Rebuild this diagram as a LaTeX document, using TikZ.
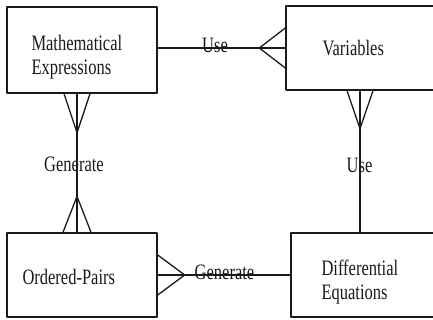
\documentclass[tikz,border=0pt]{standalone}
\usepackage{fontspec}
\setmainfont{Liberation Serif}[FakeStretch=0.75]
\usepackage{xcolor}
\definecolor{erInk}{HTML}{1A1A1A}

\begin{document}
\begin{tikzpicture}[x=1pt, y=-1pt, line cap=round, line join=round,
  entity/.style={draw=erInk, line width=1.4pt, inner sep=0pt},
  lbl/.style={font=\fontsize{22}{24}\selectfont, text=erInk, inner sep=0pt, align=left},
  rel/.style={draw=erInk, line width=1.3pt}]
  \clip (0,0) rectangle (433,320);
  \foreach \nm/\cx/\cy/\w/\h in {mexp/82/50/150/86, vars/363/48/154/84, opairs/82/275/150/84, deq/365.5/275/149/84}{%
    \node[entity, minimum width=\w pt, minimum height=\h pt] (\nm) at (\cx,\cy) {};
  }
  % Use: expressions -- variables
  \draw[rel] (mexp.east |- vars.west) -- (vars.west);
  \coordinate (useTip) at ([xshift=-26pt]vars.west);
  \draw[rel] ([yshift=20pt]vars.west) -- (useTip) -- ([yshift=-20pt]vars.west);
  % Generate: expressions -- ordered pairs
  \coordinate (genTop) at ([xshift=-5pt]mexp.south);
  \coordinate (genBot) at ([xshift=-5pt]opairs.north);
  \draw[rel] (genTop) -- (genBot);
  \coordinate (genTopTip) at ([yshift=-39pt]genTop);
  \coordinate (genBotTip) at ([yshift=36pt]genBot);
  \draw[rel] ([xshift=-13pt]genTop) -- (genTopTip) -- ([xshift=13pt]genTop);
  \draw[rel] ([xshift=-14pt]genBot) -- (genBotTip) -- ([xshift=14pt]genBot);
  % Use: variables -- differential equations
  \coordinate (useTop) at ([xshift=-3pt]vars.south);
  \draw[rel] (useTop) -- (useTop |- deq.north);
  \coordinate (useTopTip) at ([yshift=-38pt]useTop);
  \draw[rel] ([xshift=-13pt]useTop) -- (useTopTip) -- ([xshift=13pt]useTop);
  % Generate: ordered pairs -- differential equations
  \draw[rel] (opairs.east) -- (deq.west);
  \coordinate (genTip) at ([xshift=27pt]opairs.east);
  \draw[rel] ([yshift=20pt]opairs.east) -- (genTip) -- ([yshift=-20pt]opairs.east);
  % texts
  \node[lbl, anchor=west] (mexpT) at ([xshift=25pt, yshift=-7pt]mexp.west) {Mathematical\\Expressions};
  \node[lbl, anchor=west] (varsT) at ([xshift=37pt]vars.west) {Variables};
  \node[lbl, anchor=west] (opairsT) at ([xshift=16pt, yshift=-1.5pt]opairs.west) {Ordered-Pairs};
  \node[lbl, anchor=west] (deqT) at ([xshift=31pt, yshift=-7pt]deq.west) {Differential\\Equations};
  \node[lbl] (useA) at (215,45.7) {Use};
  \node[lbl] (genA) at (74,164.5) {Generate};
  \node[lbl] (useB) at (359.5,165.7) {Use};
  \node[lbl] (genB) at (224.5,272.5) {Generate};
\end{tikzpicture}
\end{document}
